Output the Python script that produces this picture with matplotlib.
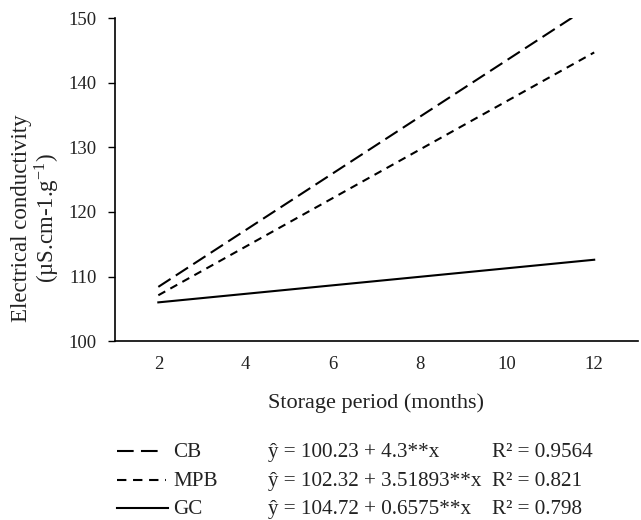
import matplotlib.pyplot as plt
from matplotlib.lines import Line2D

plt.rcParams['font.family'] = ['Liberation Serif', 'DejaVu Serif']
plt.rcParams['mathtext.fontset'] = 'stix'

# fitted regression lines, endpoints
months = [2, 12]
cb = [108.4, 152.3]
mpb = [107.1, 144.7]
gc = [106.0, 112.6]

series_names = ['CB', 'MPB', 'GC']
equations = ['ŷ = 100.23 + 4.3**x', 'ŷ = 102.32 + 3.51893**x', 'ŷ = 104.72 + 0.6575**x']
r2_labels = ['R² = 0.9564', 'R² = 0.821', 'R² = 0.798']

x_ticks = [2, 4, 6, 8, 10, 12]
y_ticks = [100, 110, 120, 130, 140, 150]

cb_dash = (7, 3)
mpb_dash = (3.8, 2.8)
txt = '#222222'

fig = plt.figure(figsize=(6.41, 5.2), dpi=100)
ax = fig.add_axes([0.179, 0.344, 0.816, 0.621])

ax.plot(months, cb, color='black', lw=1.5, dashes=cb_dash)
ax.plot(months, mpb, color='black', lw=1.5, dashes=mpb_dash)
ax.plot(months, gc, color='black', lw=1.5)

ax.set_xlim(1, 13)
ax.set_ylim(100, 150)
ax.set_xticks(x_ticks)
ax.set_yticks(y_ticks)
ax.tick_params(axis='x', length=0, pad=11, labelsize=13.5, labelcolor=txt)
ax.tick_params(axis='y', length=5, width=1, pad=8, labelsize=13.5, labelcolor=txt)
for s in ['top', 'right']:
    ax.spines[s].set_visible(False)
for s in ['left', 'bottom']:
    ax.spines[s].set_linewidth(1.2)

ax.set_xlabel('Storage period (months)', fontsize=16, labelpad=14, color=txt)
ax.set_ylabel('Electrical conductivity\n(µS.cm-1.g$^{\\mathregular{-1}}$)', fontsize=16.5,
              linespacing=1.05, color=txt)
ax.yaxis.set_label_coords(-0.102, 0.381)

# legend block drawn below the axes (pixel positions)
W, H = 641, 520
line_y = [451, 480, 508]
text_base = [457, 486, 514]
styles = [dict(dashes=(8, 3.5)), dict(dashes=(4.5, 3.2)), dict()]
line_end = [162, 166, 168]
for i in range(3):
    y = 1 - line_y[i] / H
    fig.add_artist(Line2D([117 / W, line_end[i] / W], [y, y], color='black', lw=1.5,
                          transform=fig.transFigure, **styles[i]))
    yb = 1 - text_base[i] / H
    fig.text(173 / W, yb, series_names[i], fontsize=15.2, va='baseline', color=txt)
    fig.text(268 / W, yb, equations[i], fontsize=15.2, va='baseline', color=txt)
    fig.text(492 / W, yb, r2_labels[i], fontsize=15.2, va='baseline', color=txt)

fig.savefig('out.png', dpi=100)
